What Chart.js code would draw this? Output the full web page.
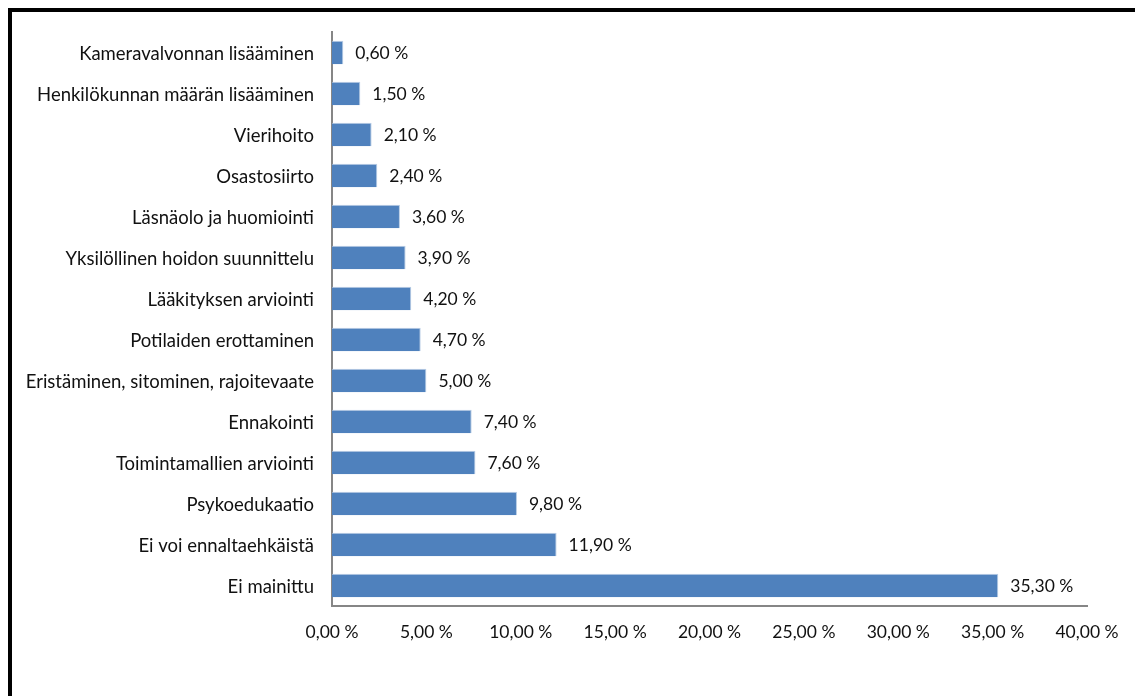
<!DOCTYPE html>
<html>
<head>
<meta charset="utf-8">
<script src="https://cdn.jsdelivr.net/npm/chart.js@4/dist/chart.umd.min.js"></script>
<style>
  html, body { margin: 0; padding: 0; background: #fff; overflow: hidden; }
  #frame {
    position: absolute; left: 8px; top: 8px;
    width: 1200px; height: 760px;
    border-left: 4px solid #000; border-top: 4px solid #000;
  }
  #wrap { position: absolute; left: 0; top: 0; width: 1135px; height: 696px; }
</style>
</head>
<body>
<div id="frame"></div>
<div id="wrap"><canvas id="c" width="1135" height="696"></canvas></div>
<script>
// Ennaltaehkäisyn keinot, osuus vastauksista (%)
const categories = [
  "Kameravalvonnan lisääminen",
  "Henkilökunnan määrän lisääminen",
  "Vierihoito",
  "Osastosiirto",
  "Läsnäolo ja huomiointi",
  "Yksilöllinen hoidon suunnittelu",
  "Lääkityksen arviointi",
  "Potilaiden erottaminen",
  "Eristäminen, sitominen, rajoitevaate",
  "Ennakointi",
  "Toimintamallien arviointi",
  "Psykoedukaatio",
  "Ei voi ennaltaehkäistä",
  "Ei mainittu"
];
const values = [0.6, 1.5, 2.1, 2.4, 3.6, 3.9, 4.2, 4.7, 5.0, 7.4, 7.6, 9.8, 11.9, 35.3];
const xTicks = [0, 5, 10, 15, 20, 25, 30, 35, 40];

const FONT = "Lato, 'Open Sans', sans-serif";
const TEXT = "#111111";
const fmt = v => v.toFixed(2).replace(".", ",") + " %";

const valueLabels = {
  id: "valueLabels",
  afterDatasetsDraw(chart) {
    const ctx = chart.ctx;
    const meta = chart.getDatasetMeta(0);
    ctx.save();
    ctx.font = "17.5px " + FONT;
    ctx.fillStyle = TEXT;
    ctx.textAlign = "left";
    ctx.textBaseline = "middle";
    meta.data.forEach((bar, i) => {
      ctx.fillText(fmt(values[i]), bar.x + 12, bar.y + 1);
    });
    ctx.restore();
  }
};

new Chart(document.getElementById("c"), {
  type: "bar",
  data: {
    labels: categories,
    datasets: [{
      data: values,
      backgroundColor: "#4F81BD",
      borderColor: "#B9CDE5",
      borderWidth: { top: 1, right: 1, bottom: 0, left: 0 },
      borderSkipped: false,
      categoryPercentage: 1,
      barPercentage: 0.57
    }]
  },
  options: {
    indexAxis: "y",
    responsive: false,
    animation: false,
    devicePixelRatio: 1,
    layout: { padding: { top: 32, right: 48, bottom: 0, left: 0 } },
    plugins: { legend: { display: false }, tooltip: { enabled: false } },
    scales: {
      x: {
        min: 0, max: 40,
        afterBuildTicks(scale) { scale.ticks = xTicks.map(v => ({ value: v })); },
        afterFit(scale) { scale.height = 90; },
        grid: { display: false, drawTicks: false },
        border: { display: true, color: "#868686", width: 2 },
        ticks: {
          padding: 16,
          color: TEXT,
          maxRotation: 0,
          font: { family: FONT, size: 17.5 },
          callback: v => fmt(v)
        }
      },
      y: {
        afterFit(scale) { scale.width = 332; },
        grid: { display: false, drawTicks: false },
        border: { display: true, color: "#868686", width: 2 },
        ticks: {
          padding: 18,
          labelOffset: 2,
          color: TEXT,
          font: { family: FONT, size: 18.5 }
        }
      }
    }
  },
  plugins: [valueLabels]
});
</script>
</body>
</html>
